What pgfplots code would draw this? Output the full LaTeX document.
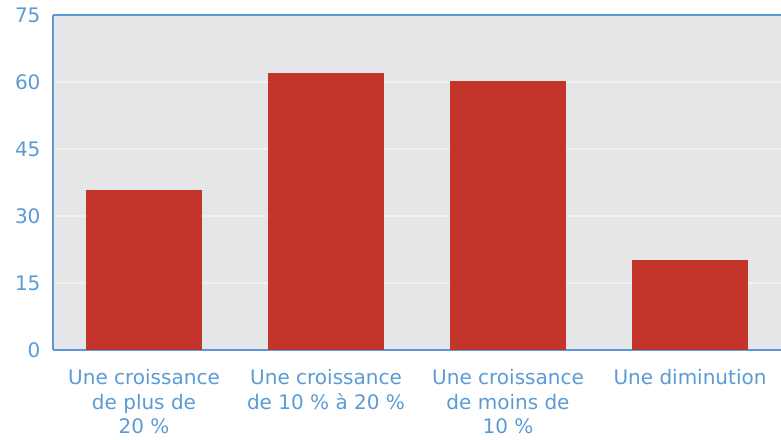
\documentclass[border=0pt]{standalone}
\usepackage{fontspec}
\setmainfont{DejaVu Sans}
\usepackage{pgfplots}
\pgfplotsset{compat=1.18}
\usetikzlibrary{calc}
\definecolor{barred}{HTML}{C3352A}
\definecolor{bgray}{HTML}{E5E6E8}
\definecolor{axblue}{HTML}{5B9BD5}
\definecolor{gridc}{HTML}{F0F0F1}
\begin{document}
\begin{tikzpicture}
\begin{axis}[
  scale only axis,
  width=728pt, height=335pt,
  xmin=-0.5, xmax=3.5,
  ymin=0, ymax=75,
  ytick={0,15,30,45,60,75},
  xtick={0,1,2,3},
  xticklabels={{Une croissance\\de plus de\\20 \%},{Une croissance\\de 10 \% à 20 \%},{Une croissance\\de moins de\\10 \%},{Une diminution}},
  axis x line=box,
  axis y line=left,
  axis line style={axblue, line width=1.6pt},
  x axis line style={-}, y axis line style={-},
  major tick length=0pt,
  ymajorgrids,
  grid style={gridc, line width=1.6pt},
  axis background/.style={fill=bgray},
  tick label style={text=axblue, font=\fontsize{20}{24.5}\selectfont},
  xticklabel style={align=center, anchor=north, yshift=-16pt},
  yticklabel style={anchor=east, xshift=-9pt},
  /pgf/number format/assume math mode=true,
  ybar, bar width=0.637,
  clip=false,
]
\addplot[fill=barred, draw=none] coordinates {(0,35.8) (1,62) (2,60.2) (3,20.1)};
\end{axis}
\pgfresetboundingbox
\path ($(current axis.south west)+(-53pt,-90pt)$) rectangle ($(current axis.north east)+(0pt,15pt)$);
\end{tikzpicture}
\end{document}
